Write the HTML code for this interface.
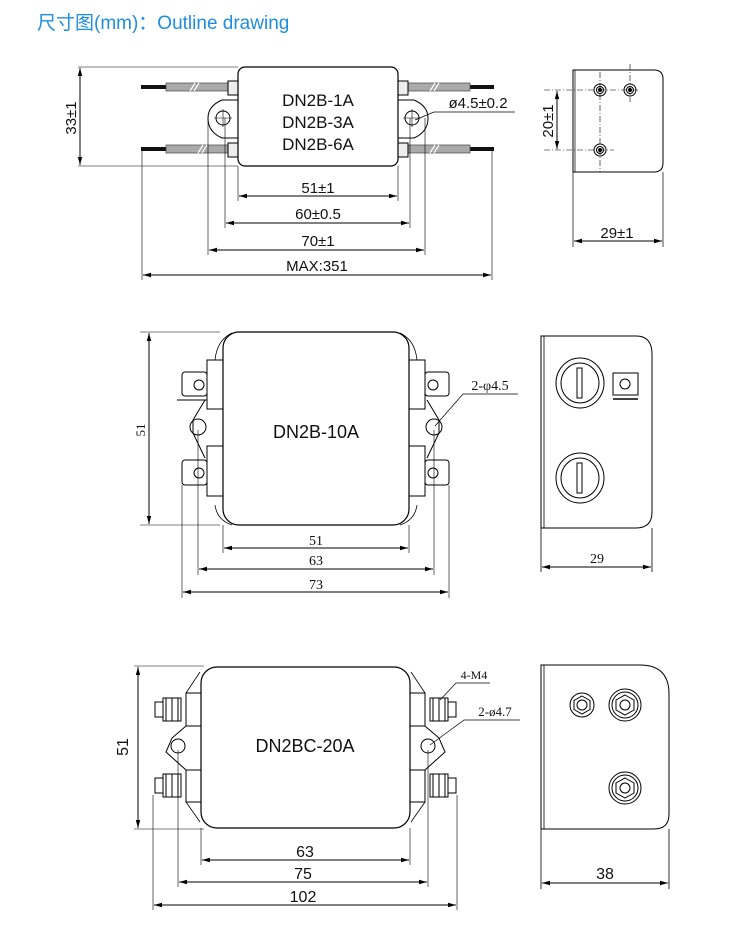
<!DOCTYPE html>
<html><head><meta charset="utf-8"><style>
html,body{margin:0;padding:0;background:#fff;}
svg{display:block;}
.s{font-family:"Liberation Sans",sans-serif;}
.r{font-family:"Liberation Serif",serif;}
</style></head><body>
<svg width="750" height="928" viewBox="0 0 750 928" xmlns="http://www.w3.org/2000/svg">
<defs>
<marker id="a" markerWidth="8" markerHeight="6" refX="8" refY="3" orient="auto-start-reverse" markerUnits="userSpaceOnUse"><path d="M0,0.8 L8,3 L0,5.2 z" fill="#000"/></marker>
</defs>
<text x="37" y="29" font-size="19" fill="#1e8ee0" font-family="'Liberation Sans','Noto Sans CJK SC',sans-serif">尺寸图(mm)：Outline drawing</text>

<g stroke="#000" fill="none" stroke-width="1">
<!-- ===== Section 1 ===== -->
<path d="M238,100 L222,100 Q208,106 208,118 Q208,132 222,138 L238,138" fill="#fff"/>
<path d="M398,100 L414,100 Q428,106 428,118 Q428,132 414,138 L398,138" fill="#fff"/>
<circle cx="223" cy="118" r="7"/><circle cx="412" cy="118" r="7"/>
<path d="M214,118h18M223,109v18M403,118h18M412,109v18" stroke-width="0.6"/>
<g stroke="none">
<rect x="141" y="85" width="25" height="4" fill="#111"/>
<rect x="141" y="147" width="25" height="4" fill="#111"/>
<rect x="470" y="85" width="24" height="4" fill="#111"/>
<rect x="470" y="147" width="24" height="4" fill="#111"/>
</g>
<rect x="166" y="83" width="62" height="8" fill="#aaa" stroke="#444" stroke-width="0.7"/>
<rect x="166" y="145" width="62" height="8" fill="#aaa" stroke="#444" stroke-width="0.7"/>
<rect x="408" y="83" width="62" height="8" fill="#aaa" stroke="#444" stroke-width="0.7"/>
<rect x="408" y="145" width="62" height="8" fill="#aaa" stroke="#444" stroke-width="0.7"/>
<path d="M190,91l5,-8M194,91l5,-8M198,153l5,-8M202,153l5,-8M430,91l5,-8M434,91l5,-8M430,153l5,-8M434,153l5,-8" stroke="#fff" stroke-width="1.2"/>
<rect x="228" y="81" width="10" height="14" fill="#eee"/>
<rect x="228" y="143" width="10" height="14" fill="#eee"/>
<rect x="398" y="81" width="10" height="14" fill="#eee"/>
<rect x="398" y="143" width="10" height="14" fill="#eee"/>
<rect x="238" y="67" width="160" height="99" rx="7" fill="#fff" stroke-width="1.2"/>
<path d="M78,67h160M78,166h160" stroke-width="0.6"/>
<line x1="80" y1="68" x2="80" y2="165" marker-start="url(#a)" marker-end="url(#a)"/>
<path d="M238,166v35M398,166v35M225,118v110M410,118v110M208,118v137M425,118v137M142,150v130M492,150v130" stroke-width="0.6"/>
<line x1="239" y1="196" x2="397" y2="196" marker-start="url(#a)" marker-end="url(#a)"/>
<line x1="226" y1="223" x2="409" y2="223" marker-start="url(#a)" marker-end="url(#a)"/>
<line x1="209" y1="250" x2="424" y2="250" marker-start="url(#a)" marker-end="url(#a)"/>
<line x1="143" y1="275" x2="491" y2="275" marker-start="url(#a)" marker-end="url(#a)"/>
<path d="M415,120 L434,112 L515,112" stroke-width="0.7"/>
<!-- side view 1 -->
<path d="M573,70 H654 Q663,70 663,79 V163 Q663,172 654,172 H573 Z" fill="#fff"/>
<path d="M575,70v102M573,172v75M663,172v75" stroke-width="0.7"/>
<path d="M544,90h96M544,150h70M600,72v100M630,64v38" stroke-width="0.6" stroke-dasharray="6,2,1,2"/>
<circle cx="600" cy="90" r="6"/><circle cx="600" cy="90" r="3.5"/><circle cx="600" cy="90" r="1.5" fill="#000"/>
<circle cx="630" cy="90" r="6"/><circle cx="630" cy="90" r="3.5"/><circle cx="630" cy="90" r="1.5" fill="#000"/>
<circle cx="600" cy="150" r="6"/><circle cx="600" cy="150" r="3.5"/><circle cx="600" cy="150" r="1.5" fill="#000"/>
<line x1="557" y1="91" x2="557" y2="149" marker-start="url(#a)" marker-end="url(#a)"/>
<line x1="574" y1="241" x2="662" y2="241" marker-start="url(#a)" marker-end="url(#a)"/>

<!-- ===== Section 2 ===== -->
<path d="M215,360 Q217,340 232,333 M417,360 Q415,340 400,333 M215,505 Q217,520 232,525 M417,505 Q415,520 400,525" stroke-width="0.8"/>
<path d="M205,400 L193,420 L193,433 L205,458 M427,400 L439,420 L439,433 L427,458" fill="#fff"/>
<circle cx="198" cy="427" r="8"/><circle cx="434" cy="427" r="8"/>
<rect x="182" y="372" width="25" height="24" rx="3" fill="#fff"/>
<rect x="182" y="460" width="25" height="25" rx="3" fill="#fff"/>
<rect x="425" y="372" width="24" height="24" rx="3" fill="#fff"/>
<rect x="425" y="460" width="24" height="25" rx="3" fill="#fff"/>
<rect x="194" y="380" width="10" height="10" rx="5"/><rect x="194" y="468" width="10" height="10" rx="5"/>
<rect x="428" y="380" width="10" height="10" rx="5"/><rect x="428" y="468" width="10" height="10" rx="5"/>
<path d="M177,400h30v-4" />
<rect x="207" y="360" width="16" height="49" fill="#fff"/>
<rect x="207" y="446" width="16" height="50" fill="#fff"/>
<rect x="409" y="360" width="16" height="49" fill="#fff"/>
<rect x="409" y="446" width="16" height="50" fill="#fff"/>
<rect x="223" y="332" width="186" height="193" rx="16" fill="#fff" stroke-width="1.2"/>
<path d="M140,332h80M140,525h80" stroke-width="0.6"/>
<line x1="149" y1="333" x2="149" y2="524" marker-start="url(#a)" marker-end="url(#a)"/>
<path d="M223,525v28M409,525v28M198,430v145M434,430v145M182,485v113M449,485v113" stroke-width="0.6"/>
<line x1="224" y1="548" x2="408" y2="548" marker-start="url(#a)" marker-end="url(#a)"/>
<line x1="199" y1="569" x2="433" y2="569" marker-start="url(#a)" marker-end="url(#a)"/>
<line x1="183" y1="592" x2="448" y2="592" marker-start="url(#a)" marker-end="url(#a)"/>
<path d="M435,426 L463,394 L518,394" stroke-width="0.7"/>
<path d="M541,336 H636 Q652,336 652,354 V512 Q652,528 636,528 H541 Z" fill="#fff"/>
<path d="M544,336v192M541,528v44M652,528v44" stroke-width="0.8"/>
<ellipse cx="580" cy="383" rx="24" ry="25"/><ellipse cx="580" cy="383" rx="19" ry="20"/>
<rect x="577" y="368" width="5" height="30"/>
<ellipse cx="580" cy="478" rx="24" ry="25"/><ellipse cx="580" cy="478" rx="19" ry="20"/>
<rect x="577" y="463" width="5" height="30"/>
<rect x="613" y="373" width="25" height="22"/><circle cx="625" cy="384" r="5"/>
<path d="M613,399h25" stroke-width="1.5"/>
<line x1="542" y1="567" x2="651" y2="567" marker-start="url(#a)" marker-end="url(#a)"/>

<!-- ===== Section 3 ===== -->
<path d="M186,693 L200,672 M425,693 L411,672 M186,802 L200,822 M425,802 L411,822" stroke-width="0.8"/>
<path d="M186,726 L172,738 L166,752 L186,770 M425,726 L439,738 L445,752 L425,770" fill="#fff"/>
<circle cx="178" cy="746" r="7"/><circle cx="428" cy="746" r="7"/>
<g fill="#fff">
<rect x="155" y="702" width="8" height="15"/><rect x="163" y="698" width="18" height="23"/><path d="M166,698v23M172,698v23M178,698v23"/>
<rect x="155" y="778" width="8" height="15"/><rect x="163" y="774" width="18" height="23"/><path d="M166,774v23M172,774v23M178,774v23"/>
<rect x="448" y="702" width="8" height="15"/><rect x="430" y="698" width="18" height="23"/><path d="M433,698v23M439,698v23M445,698v23"/>
<rect x="448" y="778" width="8" height="15"/><rect x="430" y="774" width="18" height="23"/><path d="M433,774v23M439,774v23M445,774v23"/>
</g>
<rect x="186" y="693" width="15" height="33" fill="#fff"/>
<rect x="186" y="770" width="15" height="32" fill="#fff"/>
<rect x="410" y="693" width="15" height="33" fill="#fff"/>
<rect x="410" y="770" width="15" height="32" fill="#fff"/>
<rect x="201" y="667" width="209" height="161" rx="16" fill="#fff" stroke-width="1.2"/>
<path d="M134,666h70M134,829h70" stroke-width="0.6"/>
<line x1="138" y1="667" x2="138" y2="828" marker-start="url(#a)" marker-end="url(#a)"/>
<path d="M201,828v37M410,828v37M178,750v137M428,750v137M153,795v115M457,795v115" stroke-width="0.6"/>
<line x1="202" y1="860" x2="409" y2="860" marker-start="url(#a)" marker-end="url(#a)"/>
<line x1="179" y1="882" x2="427" y2="882" marker-start="url(#a)" marker-end="url(#a)"/>
<line x1="154" y1="905" x2="456" y2="905" marker-start="url(#a)" marker-end="url(#a)"/>
<path d="M440,700 L456,683 L490,683" stroke-width="0.7"/>
<path d="M430,745 L464,720 L520,720" stroke-width="0.7"/>
<path d="M541,665 H640 Q669,665 669,694 V814 Q669,829 654,829 H541 Z" fill="#fff"/>
<path d="M544,665v164M541,829v60M669,829v60" stroke-width="0.8"/>
<circle cx="582" cy="705" r="12"/><path d="M582,696 l8,4.5 v9 l-8,4.5 l-8,-4.5 v-9z"/><circle cx="582" cy="705" r="5"/>
<circle cx="625" cy="705" r="16"/><circle cx="625" cy="705" r="13"/><path d="M625,695 l9,5 v10 l-9,5 l-9,-5 v-10z"/><circle cx="625" cy="705" r="5"/>
<circle cx="625" cy="788" r="16"/><circle cx="625" cy="788" r="13"/><path d="M625,778 l9,5 v10 l-9,5 l-9,-5 v-10z"/><circle cx="625" cy="788" r="5"/>
<line x1="542" y1="883" x2="668" y2="883" marker-start="url(#a)" marker-end="url(#a)"/>
</g>

<g class="s" fill="#111" text-anchor="middle">
<text x="318" y="106" font-size="17">DN2B-1A</text>
<text x="318" y="128" font-size="17">DN2B-3A</text>
<text x="318" y="150" font-size="17">DN2B-6A</text>
<text x="318" y="193" font-size="15">51±1</text>
<text x="318" y="219" font-size="15">60±0.5</text>
<text x="318" y="246" font-size="15">70±1</text>
<text x="317" y="271" font-size="15">MAX:351</text>
<text x="478" y="108" font-size="15">ø4.5±0.2</text>
<text x="617" y="238" font-size="15">29±1</text>
<text transform="translate(76,118) rotate(-90)" font-size="15">33±1</text>
<text transform="translate(553,121) rotate(-90)" font-size="15">20±1</text>
<text x="316" y="438" font-size="18">DN2B-10A</text>
<text x="305" y="752" font-size="18">DN2BC-20A</text>
<text x="305" y="857" font-size="16">63</text>
<text x="303" y="879" font-size="16">75</text>
<text x="303" y="902" font-size="16">102</text>
<text x="605" y="879" font-size="16">38</text>
<text transform="translate(128,747) rotate(-90)" font-size="16">51</text>
</g>
<g class="r" fill="#111" text-anchor="middle">
<text x="316" y="545" font-size="14">51</text>
<text x="316" y="565" font-size="14">63</text>
<text x="316" y="589" font-size="14">73</text>
<text x="597" y="563" font-size="14">29</text>
<text x="490" y="390" font-size="14">2-φ4.5</text>
<text x="474" y="679" font-size="12">4-M4</text>
<text x="495" y="716" font-size="13">2-ø4.7</text>
<text transform="translate(145,430) rotate(-90)" font-size="13">51</text>
</g>
</svg>
</body></html>
